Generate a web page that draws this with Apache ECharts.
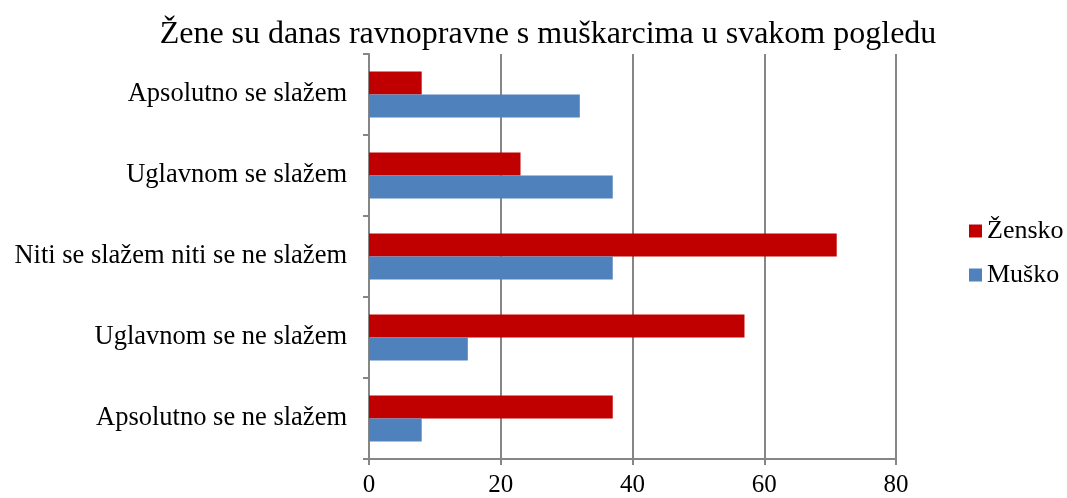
<!DOCTYPE html>
<html>
<head>
<meta charset="utf-8">
<script src="https://cdn.jsdelivr.net/npm/echarts@6/dist/echarts.min.js"></script>
<style>
  html, body { margin: 0; padding: 0; background: #fff; }
  #chart { width: 1067px; height: 498px; }
</style>
</head>
<body>
<div id="chart"></div>
<script>
const categories = [
  'Apsolutno se slažem',
  'Uglavnom se slažem',
  'Niti se slažem niti se ne slažem',
  'Uglavnom se ne slažem',
  'Apsolutno se ne slažem',
]
const zensko = [8, 23, 71, 57, 37]
const musko = [32, 37, 37, 15, 8]
const xTicks = { min: 0, max: 80, interval: 20 }

const font = '"Liberation Serif", "Times New Roman", serif'
const gray = '#868686'

const chart = echarts.init(document.getElementById('chart'))
chart.setOption({
  animation: false,
  title: {
    text: 'Žene su danas ravnopravne s muškarcima u svakom pogledu',
    left: 543,
    textAlign: 'center',
    top: 14,
    textStyle: { fontFamily: font, fontSize: 32, fontWeight: 'normal', color: '#000' },
  },
  legend: {
    orient: 'vertical',
    left: 964,
    top: 213,
    itemWidth: 13,
    itemHeight: 13,
    itemGap: 18,
    icon: 'rect',
    textStyle: { fontFamily: font, fontSize: 26, color: '#000' },
    data: ['Žensko', 'Muško'],
  },
  grid: { left: 369, right: 171, top: 54, bottom: 39 },
  xAxis: {
    type: 'value',
    min: xTicks.min,
    max: xTicks.max,
    interval: xTicks.interval,
    axisLine: { show: true, lineStyle: { color: gray, width: 2 } },
    axisTick: { show: true, length: 6, lineStyle: { color: gray, width: 2 } },
    splitLine: { show: true, lineStyle: { color: gray, width: 2 } },
    axisLabel: { fontFamily: font, fontSize: 25, color: '#000', margin: 14 },
  },
  yAxis: {
    type: 'category',
    inverse: true,
    data: categories,
    axisLine: { show: true, lineStyle: { color: gray, width: 2 } },
    axisTick: { show: true, length: 6, lineStyle: { color: gray, width: 2 } },
    axisLabel: { fontFamily: font, fontSize: 26.5, color: '#000', margin: 22 },
  },
  series: [
    {
      name: 'Žensko',
      type: 'bar',
      data: zensko,
      barGap: '0%',
      barCategoryGap: '43%',
      itemStyle: { color: '#C00000' },
    },
    {
      name: 'Muško',
      type: 'bar',
      data: musko,
      itemStyle: { color: '#4F81BD' },
    },
  ],
})
</script>
</body>
</html>
